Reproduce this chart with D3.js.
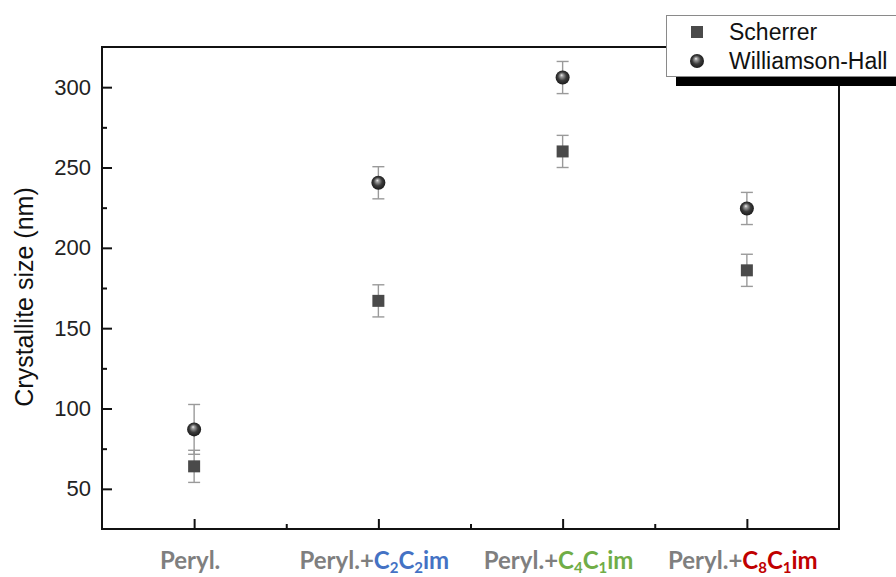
<!DOCTYPE html>
<html>
<head>
<meta charset="utf-8">
<script src="https://cdn.jsdelivr.net/npm/d3@7"></script>
<style>
  html, body { margin: 0; padding: 0; background: #fff; }
  svg { display: block; }
</style>
</head>
<body>
<svg id="chart" width="896" height="577"></svg>
<script>
// Samples along the x axis
const samples = ["Peryl.", "Peryl.+C2C2im", "Peryl.+C4C1im", "Peryl.+C8C1im"];
// Label parts: base name plus ionic liquid (subscripts marked with "_")
const baseNames = ["Peryl.", "Peryl.+", "Peryl.+", "Peryl.+"];
const ilNames = ["", "C_2C_2im", "C_4C_1im", "C_8C_1im"];
const ilColors = ["#7f7f7f", "#4472c4", "#70ad47", "#c00000"];

// Crystallite size (nm) with error
const scherrer = [64, 167, 260, 186];
const scherrerErr = [10, 10, 10, 10];
const williamsonHall = [87, 240.5, 306, 224.5];
const williamsonHallErr = [15.5, 10, 10, 10];

const yTicks = [50, 100, 150, 200, 250, 300];
const yMinorTicks = [75, 125, 175, 225, 275];

const svg = d3.select("#chart");
const margin = { left: 102, right: 57, top: 47, bottom: 48 };
const W = 896, H = 577;
const x0 = margin.left, x1 = W - margin.right;
const y0 = H - margin.bottom, y1 = margin.top;

const x = d3.scaleLinear().domain([0.5, 4.5]).range([x0, x1]);
const y = d3.scaleLinear().domain([25, 325]).range([y0, y1]);

// Sphere shading for the Williamson-Hall markers
const defs = svg.append("defs");
const grad = defs.append("radialGradient")
  .attr("id", "sphere").attr("cx", "0.5").attr("cy", "0.5").attr("r", "0.55")
  .attr("fx", "0.42").attr("fy", "0.32");
grad.append("stop").attr("offset", "0%").attr("stop-color", "#f2f2f2");
grad.append("stop").attr("offset", "18%").attr("stop-color", "#a0a0a0");
grad.append("stop").attr("offset", "55%").attr("stop-color", "#3c3c3c");
grad.append("stop").attr("offset", "100%").attr("stop-color", "#151515");

// Axes with inward ticks
const fontAx = "'Liberation Sans', Arial, sans-serif";
const yAxis = svg.append("g").attr("transform", `translate(${x0},0)`)
  .call(d3.axisLeft(y).tickValues(yTicks).tickSize(-10).tickPadding(11));
const yMinor = svg.append("g").attr("transform", `translate(${x0},0)`)
  .call(d3.axisLeft(y).tickValues(yMinorTicks).tickSize(-5).tickFormat(""));
const xAxis = svg.append("g").attr("transform", `translate(0,${y0})`)
  .call(d3.axisBottom(x).tickValues([1, 2, 3, 4]).tickSize(-10).tickFormat(""));
const xMinor = svg.append("g").attr("transform", `translate(0,${y0})`)
  .call(d3.axisBottom(x).tickValues([1.5, 2.5, 3.5]).tickSize(-5).tickFormat(""));

[yAxis, yMinor, xAxis, xMinor].forEach(g => {
  g.select(".domain").remove();
  g.selectAll(".tick line").attr("stroke", "#111").attr("stroke-width", 2);
});
yAxis.selectAll(".tick text")
  .attr("font-family", fontAx).attr("font-size", 22).attr("fill", "#222");

// Frame
svg.append("rect")
  .attr("x", x0).attr("y", y1).attr("width", x1 - x0).attr("height", y0 - y1)
  .attr("fill", "none").attr("stroke", "#111").attr("stroke-width", 2);

// Y title
svg.append("text")
  .attr("transform", `translate(33,297) rotate(-90)`)
  .attr("text-anchor", "middle")
  .attr("font-family", fontAx).attr("font-size", 25).attr("fill", "#111")
  .text("Crystallite size (nm)");

// Category labels
const labels = svg.append("g")
  .attr("font-family", "Lato, 'Open Sans', sans-serif")
  .attr("font-weight", "bold").attr("font-size", 24);
samples.forEach((s, i) => {
  const t = labels.append("text")
    .attr("x", x(i + 1) - 4).attr("y", 569)
    .attr("text-anchor", "middle");
  t.append("tspan").attr("fill", "#7f7f7f").text(baseNames[i]);
  const parts = ilNames[i].split(/(_\d)/).filter(p => p.length);
  let shifted = false;
  parts.forEach(p => {
    if (p.startsWith("_")) {
      t.append("tspan").attr("fill", ilColors[i]).attr("font-size", 15)
        .attr("dy", 4).text(p.slice(1));
      shifted = true;
    } else {
      t.append("tspan").attr("fill", ilColors[i])
        .attr("dy", shifted ? -4 : 0).text(p);
      shifted = false;
    }
  });
});

// Error bars
function errorBars(vals, errs) {
  const g = svg.append("g").attr("stroke", "#9a9a9a").attr("stroke-width", 1.4);
  vals.forEach((v, i) => {
    const cx = x(i + 1);
    g.append("line").attr("x1", cx).attr("x2", cx)
      .attr("y1", y(v - errs[i])).attr("y2", y(v + errs[i]));
    [v - errs[i], v + errs[i]].forEach(e => {
      g.append("line").attr("x1", cx - 6).attr("x2", cx + 6)
        .attr("y1", y(e)).attr("y2", y(e));
    });
  });
}
errorBars(scherrer, scherrerErr);
errorBars(williamsonHall, williamsonHallErr);

// Markers
svg.append("g").selectAll("rect").data(scherrer).join("rect")
  .attr("x", (d, i) => x(i + 1) - 6).attr("y", d => y(d) - 6)
  .attr("width", 12).attr("height", 12).attr("fill", "#4a4a4a");
svg.append("g").selectAll("circle").data(williamsonHall).join("circle")
  .attr("cx", (d, i) => x(i + 1)).attr("cy", d => y(d))
  .attr("r", 7).attr("fill", "url(#sphere)");

// Legend with drop shadow
const lg = svg.append("g");
lg.append("rect").attr("x", 676).attr("y", 25).attr("width", 240).attr("height", 61)
  .attr("fill", "#000");
lg.append("rect").attr("x", 666.5).attr("y", 15.5).attr("width", 240).attr("height", 61)
  .attr("fill", "#fff").attr("stroke", "#8a8a8a").attr("stroke-width", 1);
lg.append("rect").attr("x", 691).attr("y", 26).attr("width", 12).attr("height", 12)
  .attr("fill", "#4a4a4a");
lg.append("circle").attr("cx", 697).attr("cy", 61).attr("r", 7).attr("fill", "url(#sphere)");
lg.append("text").attr("x", 729).attr("y", 40)
  .attr("font-family", fontAx).attr("font-size", 23).attr("fill", "#111").text("Scherrer");
lg.append("text").attr("x", 729).attr("y", 69)
  .attr("font-family", fontAx).attr("font-size", 23).attr("fill", "#111").text("Williamson-Hall");
</script>
</body>
</html>
